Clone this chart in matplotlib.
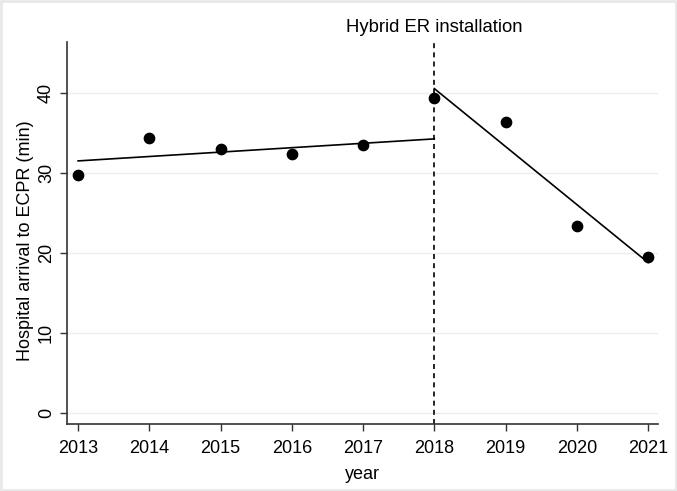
import numpy as np
import matplotlib
matplotlib.use("Agg")
import matplotlib.pyplot as plt
from matplotlib.patches import Rectangle

plt.rcParams['font.family'] = ['Liberation Sans', 'DejaVu Sans']

# Yearly mean time from hospital arrival to ECPR (min)
years = [2013, 2014, 2015, 2016, 2017, 2018, 2019, 2020, 2021]
minutes = [29.7, 34.4, 33.0, 32.3, 33.5, 39.3, 36.4, 23.4, 19.5]
install_year = 2018
yticks = [0, 10, 20, 30, 40]

x = np.array(years)
y = np.array(minutes)

fig = plt.figure(figsize=(6.77, 4.91), dpi=100)
# light grey frame around the image
fig.patches.append(Rectangle((0.002, 0.003), 0.996, 0.994, transform=fig.transFigure,
                             fill=False, edgecolor='#e8e8e8', lw=2))
ax = fig.add_axes([0.0996, 0.137, 0.8724, 0.777])

# horizontal grid
for v in yticks:
    ax.axhline(v, color='#eaeef0', lw=1, zorder=0)

ax.scatter(x, y, s=55, color='black', zorder=3)

# linear fits before and after installation
pre = x < install_year
post = x >= install_year
b_pre = np.polyfit(x[pre], y[pre], 1)
b_post = np.polyfit(x[post], y[post], 1)
xp = np.array([x[0], install_year])
xq = np.array([install_year, x[-1]])
ax.plot(xp, np.polyval(b_pre, xp), color='black', lw=1.2, zorder=2)
ax.plot(xq, np.polyval(b_post, xq), color='black', lw=1.2, zorder=2)

ax.axvline(install_year, color='black', lw=1.2, ls=(0, (3, 2.5)), zorder=2)
ax.text(install_year, 46.3 + 1.85, 'Hybrid ER installation', ha='center',
        va='center', fontsize=13.3, clip_on=False)

ax.set_xlim(2012.85, 2021.14)
ax.set_ylim(-1.34, 46.3)
ax.set_xticks(years)
ax.set_yticks(yticks)
ax.set_yticklabels([str(v) for v in yticks], rotation=90, va='center')
ax.tick_params(labelsize=13, length=5, width=1, color='#333333')
ax.tick_params(axis='x', pad=7)
ax.tick_params(axis='y', pad=4)

for side in ['top', 'right']:
    ax.spines[side].set_visible(False)
for side in ['left', 'bottom']:
    ax.spines[side].set_linewidth(1.2)
    ax.spines[side].set_color('#333333')

ax.set_xlabel('year', fontsize=13)
ax.set_ylabel('Hospital arrival to ECPR (min)', fontsize=13)
ax.xaxis.set_label_coords(0.5, -0.11)
ax.yaxis.set_label_coords(-0.056, 0.48)

fig.savefig('out.png', dpi=100, facecolor='white')
